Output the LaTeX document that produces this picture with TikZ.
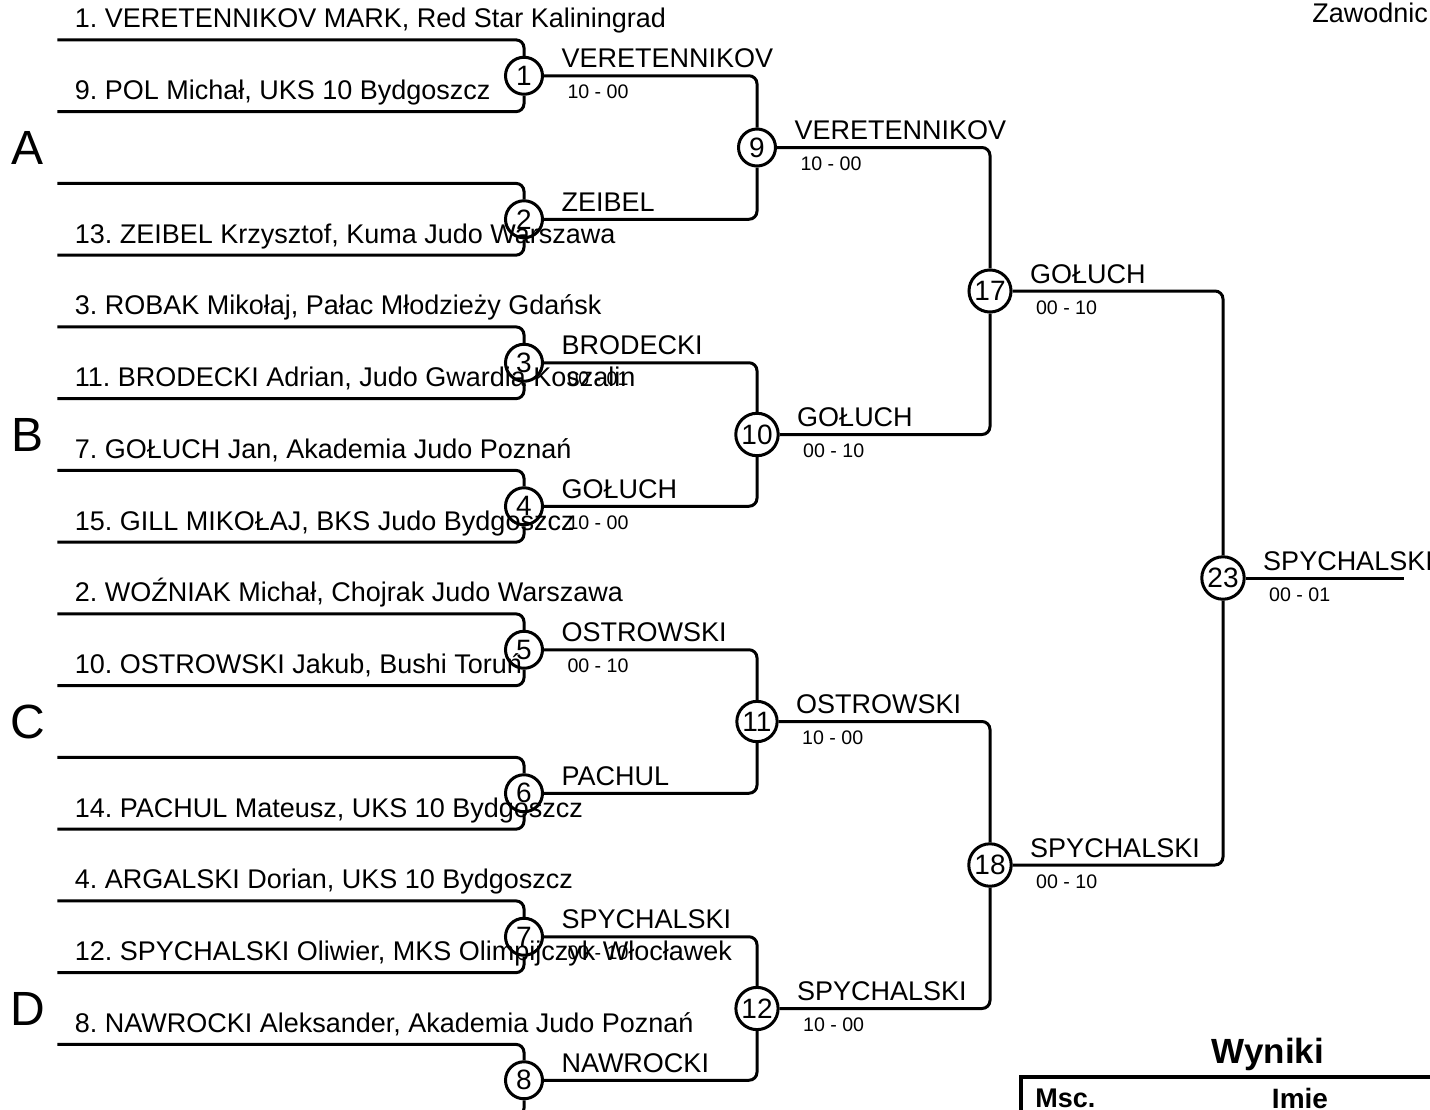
\documentclass[tikz,border=0pt]{standalone}
\usepackage{fontspec}
\setmainfont{Liberation Sans}
\frenchspacing

\tikzset{
  bout/.style={draw, circle, line width=1.5pt, minimum size=18.5pt, inner sep=1pt, font=\fontsize{14}{16}\selectfont},
  slot/.style={inner sep=0pt, minimum size=0pt},
  entrant/.style={label={[anchor=base west, inner sep=0pt, xshift=8.5pt, yshift=6pt, font=\fontsize{13.5}{16}\selectfont]0:#1}},
  winner/.style={pos=0, anchor=base west, inner sep=0pt, xshift=8pt, yshift=4pt, font=\fontsize{13.5}{16}\selectfont},
  score/.style={pos=0, anchor=north west, inner sep=0pt, xshift=11pt, yshift=-4pt, font=\fontsize{9.8}{11}\selectfont},
  pool/.style={font=\fontsize{24}{27}\selectfont},
  bracket/.style={line width=1.5pt, rounded corners=4pt},
}

\begin{document}
\begin{tikzpicture}
    [ grow=left
    , level distance=116.5pt
    , level 1/.style={sibling distance=287pt}
    , level 2/.style={sibling distance=143.5pt}
    , level 3/.style={sibling distance=71.75pt}
    , level 4/.style={sibling distance=35.875pt, level distance=233.5pt}
    , edge from parent path={(\tikzchildnode) -| (\tikzparentnode)}
    , edge from parent/.style={draw, bracket}
    ]
\useasboundingbox (0,0) rectangle (715pt,-554.5pt);
\clip (0,0) rectangle (715pt,-554.5pt);
\node[bout] (m23) at (611.5pt,-289pt) {23}
    child {node[bout] (m17) {17}
      child {node[bout] (m9) {9}
        child {node[bout] (m1) {1}
          child {node[slot, entrant={1. VERETENNIKOV MARK, Red Star Kaliningrad}] (p1) {}}
          child {node[slot, entrant={9. POL Michał, UKS 10 Bydgoszcz}] (p2) {}}
          edge from parent node[winner] {VERETENNIKOV} node[score] {10 - 00}
        }
        child {node[bout] (m2) {2}
          child {node[slot] (p3) {}} % bye
          child {node[slot, entrant={13. ZEIBEL Krzysztof, Kuma Judo Warszawa}] (p4) {}}
          edge from parent node[winner] {ZEIBEL}
        }
        edge from parent node[winner] {VERETENNIKOV} node[score] {10 - 00}
      }
      child {node[bout] (m10) {10}
        child {node[bout] (m3) {3}
          child {node[slot, entrant={3. ROBAK Mikołaj, Pałac Młodzieży Gdańsk}] (p5) {}}
          child {node[slot, entrant={11. BRODECKI Adrian, Judo Gwardia Koszalin}] (p6) {}}
          edge from parent node[winner] {BRODECKI} node[score] {00 - 01}
        }
        child {node[bout] (m4) {4}
          child {node[slot, entrant={7. GOŁUCH Jan, Akademia Judo Poznań}] (p7) {}}
          child {node[slot, entrant={15. GILL MIKOŁAJ, BKS Judo Bydgoszcz}] (p8) {}}
          edge from parent node[winner] {GOŁUCH} node[score] {10 - 00}
        }
        edge from parent node[winner] {GOŁUCH} node[score] {00 - 10}
      }
      edge from parent node[winner] {GOŁUCH} node[score] {00 - 10}
    }
    child {node[bout] (m18) {18}
      child {node[bout] (m11) {11}
        child {node[bout] (m5) {5}
          child {node[slot, entrant={2. WOŹNIAK Michał, Chojrak Judo Warszawa}] (p9) {}}
          child {node[slot, entrant={10. OSTROWSKI Jakub, Bushi Toruń}] (p10) {}}
          edge from parent node[winner] {OSTROWSKI} node[score] {00 - 10}
        }
        child {node[bout] (m6) {6}
          child {node[slot] (p11) {}} % bye
          child {node[slot, entrant={14. PACHUL Mateusz, UKS 10 Bydgoszcz}] (p12) {}}
          edge from parent node[winner] {PACHUL}
        }
        edge from parent node[winner] {OSTROWSKI} node[score] {10 - 00}
      }
      child {node[bout] (m12) {12}
        child {node[bout] (m7) {7}
          child {node[slot, entrant={4. ARGALSKI Dorian, UKS 10 Bydgoszcz}] (p13) {}}
          child {node[slot, entrant={12. SPYCHALSKI Oliwier, MKS Olimpijczyk Włocławek}] (p14) {}}
          edge from parent node[winner] {SPYCHALSKI} node[score] {00 - 10}
        }
        child {node[bout] (m8) {8}
          child {node[slot, entrant={8. NAWROCKI Aleksander, Akademia Judo Poznań}] (p15) {}}
          child {node[slot] (p16) {}} % bye
          edge from parent node[winner] {NAWROCKI}
        }
        edge from parent node[winner] {SPYCHALSKI} node[score] {10 - 00}
      }
      edge from parent node[winner] {SPYCHALSKI} node[score] {00 - 10}
    }
    ;

% final
\coordinate (champ) at (702pt,-289pt);
\draw[bracket] (m23) -- (champ) node[winner] {SPYCHALSKI} node[score] {00 - 01};

% pools
\node[pool] (poolA) at (14pt,0 |- m9) {A};
\node[pool] (poolB) at (14pt,0 |- m10) {B};
\node[pool] (poolC) at (14pt,0 |- m11) {C};
\node[pool] (poolD) at (14pt,0 |- m12) {D};

\node[anchor=base west, inner sep=0pt, font=\fontsize{13.5}{16}\selectfont] (zaw) at (656pt,-11pt) {Zawodnic};

% results
\node[font=\bfseries\fontsize{17.5}{20}\selectfont] (wyniki) at (634pt,-527pt) {Wyniki};
\draw[line width=2pt] (510.5pt,-560pt) -- (510.5pt,-538.5pt) -- (720pt,-538.5pt);
\node[anchor=west, inner sep=0pt, font=\bfseries\fontsize{13.5}{16}\selectfont] (msc) at (517.5pt,-549pt) {Msc.};
\node[font=\bfseries\fontsize{14}{16}\selectfont] (imie) at (650pt,-549pt) {Imie};

\end{tikzpicture}
\end{document}
